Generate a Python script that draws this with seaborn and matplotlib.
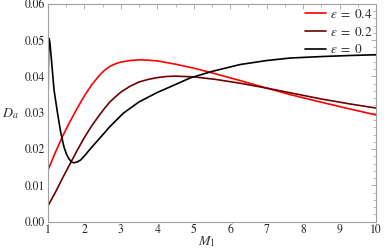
import matplotlib
matplotlib.use("Agg")
import matplotlib.pyplot as plt
from matplotlib.ticker import MultipleLocator, FormatStrFormatter
import seaborn as sns
import pandas as pd

# ---- data ----
m_eps04 = [1.0, 1.2, 1.4, 1.6, 1.8, 2.0, 2.2, 2.4, 2.55, 2.7, 2.85, 3.0, 3.25, 3.5,
           3.75, 4.0, 4.5, 5.0, 5.5, 6.3, 7.0, 7.65, 8.5, 9.3, 10.0]
d_eps04 = [0.0142, 0.0190, 0.0235, 0.0275, 0.0312, 0.0347, 0.0377, 0.0402, 0.0417,
           0.0428, 0.0435, 0.0440, 0.0444, 0.0446, 0.0445, 0.0443, 0.0434, 0.0423,
           0.0410, 0.0388, 0.0368, 0.0350, 0.0329, 0.0310, 0.0294]

m_eps02 = [1.0, 1.2, 1.4, 1.6, 1.8, 2.0, 2.2, 2.4, 2.55, 2.7, 2.85, 3.0, 3.25, 3.5,
           3.75, 4.0, 4.25, 4.5, 5.0, 5.6, 6.3, 7.0, 7.65, 8.5, 9.3, 10.0]
d_eps02 = [0.0043, 0.0080, 0.0120, 0.0158, 0.0196, 0.0232, 0.0264, 0.0292, 0.0312,
           0.0330, 0.0344, 0.0357, 0.0373, 0.0385, 0.0392, 0.0397, 0.0400, 0.0401,
           0.0399, 0.0392, 0.0381, 0.0368, 0.0355, 0.0338, 0.0324, 0.0313]

m_eps0 = [1.0, 1.01, 1.02, 1.03, 1.05, 1.1, 1.165, 1.26, 1.35, 1.44, 1.51, 1.58,
          1.65, 1.71, 1.8, 1.9, 2.0, 2.2, 2.43, 2.7, 3.07, 3.5, 4.0, 4.5, 4.9, 5.5,
          6.27, 7.0, 7.65, 8.5, 9.3, 10.0]
d_eps0 = [0.0280, 0.0420, 0.0490, 0.0505, 0.0495, 0.0440, 0.0363, 0.0300, 0.0245,
          0.0205, 0.0185, 0.0172, 0.0164, 0.0162, 0.0164, 0.0170, 0.0181, 0.0205,
          0.0231, 0.0262, 0.0299, 0.0330, 0.0356, 0.0378, 0.0396, 0.0414, 0.0433,
          0.0444, 0.0451, 0.0455, 0.0458, 0.0460]

labels = [r"$\varepsilon\;=\;0.4$", r"$\varepsilon\;=\;0.2$", r"$\varepsilon\;=\;0$"]
colors = ["#ff0000", "#6e0000", "#000000"]
x_ticks = [1, 2, 3, 4, 5, 6, 7, 8, 9, 10]
y_ticks = [0.00, 0.01, 0.02, 0.03, 0.04, 0.05, 0.06]

frames = []
for lab, m, d in zip(labels, [m_eps04, m_eps02, m_eps0], [d_eps04, d_eps02, d_eps0]):
    frames.append(pd.DataFrame({"M": m, "D": d, "series": lab}))
df = pd.concat(frames, ignore_index=True)

sns.set_style("white")
plt.rcParams["font.family"] = ["STIXGeneral", "DejaVu Serif"]
plt.rcParams["mathtext.fontset"] = "stix"

fig = plt.figure(figsize=(3.9, 2.5), dpi=100)
ax = fig.add_axes([48 / 390, 1 - 221.5 / 250, 328 / 390, 217.5 / 250])

sns.lineplot(data=df, x="M", y="D", hue="series", hue_order=labels,
             palette=dict(zip(labels, colors)), sort=False, estimator=None,
             linewidth=1.2, ax=ax)

ax.set_xlim(1, 10)
ax.set_ylim(0, 0.06)
ax.set_xticks(x_ticks)
ax.set_yticks(y_ticks)
ax.yaxis.set_major_formatter(FormatStrFormatter("%.2f"))
ax.xaxis.set_minor_locator(MultipleLocator(0.5))
ax.yaxis.set_minor_locator(MultipleLocator(0.002))
ax.tick_params(which="both", direction="in", top=True, right=True,
               color="#a0a0a0", labelsize=8.5, labelcolor="#222222", pad=2)
ax.tick_params(which="major", length=3.5, width=0.6)
ax.tick_params(which="minor", length=2, width=0.5)
for s in ax.spines.values():
    s.set_color("#a0a0a0")
    s.set_linewidth(0.8)

ax.set_xlabel(r"$M_1$", fontsize=10, color="#333333")
ax.xaxis.set_label_coords(0.485, -0.06)
ax.set_ylabel(r"$D_a$", fontsize=10, rotation=0, color="#333333")
ax.yaxis.set_label_coords(-0.115, 0.46)

leg = ax.legend(loc="upper right", frameon=False, fontsize=9.5,
                handlelength=1.6, handletextpad=0.3, labelspacing=0.35,
                borderaxespad=0.1, borderpad=0.2)
for h in leg.get_lines():
    h.set_linewidth(1.2)

fig.savefig("out.png", dpi=100)
